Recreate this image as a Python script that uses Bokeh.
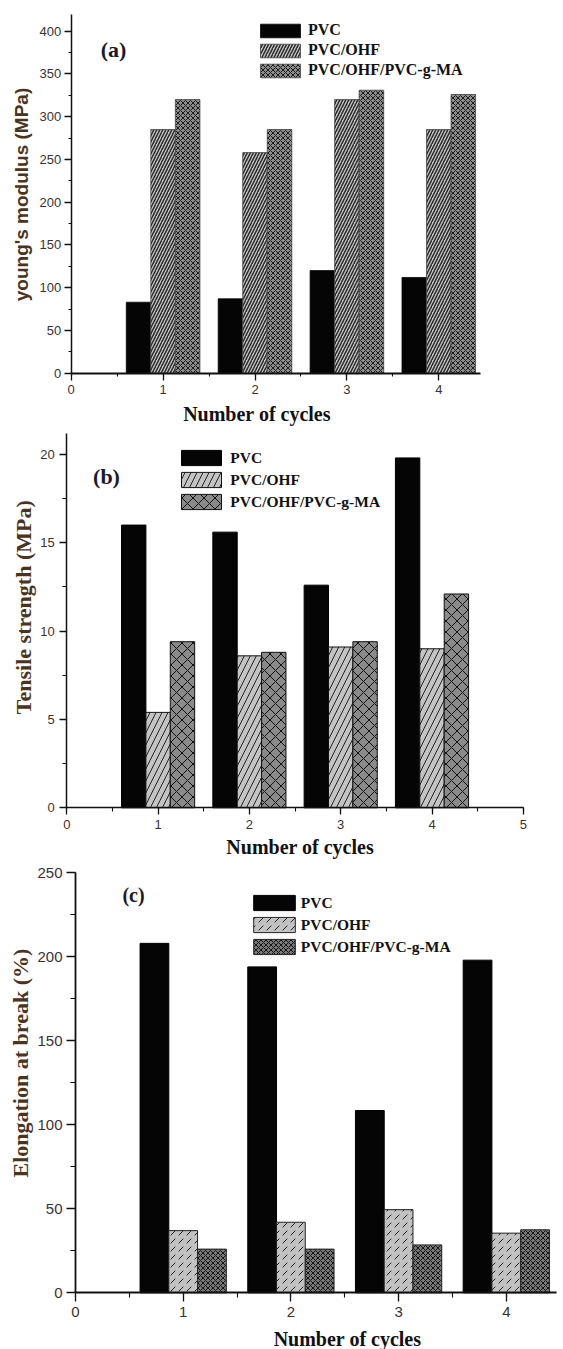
import math
from bokeh.plotting import figure
from bokeh.models import (Label, SingleIntervalTicker, Range1d, Legend, LegendItem,
                          ColumnDataSource)
from bokeh.layouts import column
from bokeh.transform import dodge
from bokeh.embed import file_html
from bokeh.resources import INLINE

# ---------------- data ----------------
cycles = [1, 2, 3, 4]
series_names = ["PVC", "PVC/OHF", "PVC/OHF/PVC-g-MA"]

young_pvc = [83, 87, 120, 112]
young_ohf = [285, 258, 320, 285]
young_ma = [320, 285, 331, 326]

tensile_pvc = [16.0, 15.6, 12.6, 19.8]
tensile_ohf = [5.4, 8.6, 9.1, 9.0]
tensile_ma = [9.4, 8.8, 9.4, 12.1]

elong_pvc = [208, 194, 108.5, 198]
elong_ohf = [37, 42, 49.5, 35.5]
elong_ma = [26, 26, 28.5, 37.5]

panel_tags = ["(a)", "(b)", "(c)"]
y_titles = ["young's modulus (MPa)", "Tensile strength (MPa)", "Elongation at break (%)"]
x_title = "Number of cycles"

BAR_W = 0.267
OFFSETS = [-BAR_W, 0.0, BAR_W]

SERIF = "Liberation Serif"
SANS = "Liberation Sans"
TITLE_COLOR = "#4a3420"
TICK_COLOR = "#3a3232"
W = 563


def make_panel(cfg):
    H = cfg["height"]
    # pixel geometry of the data area inside the figure (origin top-left)
    x0, sx = cfg["x0"], cfg["sx"]      # pixel of x=0, px per unit
    y0, sy = cfg["y0"], cfg["sy"]      # pixel of y=0 (from top), px per unit
    xr = Range1d(-x0 / sx, (W - x0) / sx)
    yr = Range1d(-(H - y0) / sy, y0 / sy)
    p = figure(width=W, height=H, x_range=xr, y_range=yr,
               toolbar_location=None, output_backend="svg",
               min_border_left=0, min_border_right=0,
               min_border_top=0, min_border_bottom=0)
    p.outline_line_color = None
    p.xgrid.visible = False
    p.ygrid.visible = False
    p.background_fill_color = "white"
    p.border_fill_color = "white"

    src = ColumnDataSource(dict(cycle=cycles, s0=cfg["vals"][0],
                                s1=cfg["vals"][1], s2=cfg["vals"][2]))
    renderers = []
    for i, st in enumerate(cfg["styles"]):
        r = p.vbar(x=dodge("cycle", OFFSETS[i]), top="s%d" % i, width=BAR_W,
                   source=src, **st)
        renderers.append(r)

    # axes crossing at the origin, limited to the plotted extent
    p.xaxis.ticker = SingleIntervalTicker(interval=1, num_minor_ticks=2)
    p.yaxis.ticker = SingleIntervalTicker(interval=cfg["yint"], num_minor_ticks=2)
    p.xaxis.fixed_location = 0
    p.yaxis.fixed_location = 0
    p.xaxis.bounds = (0, cfg["xmax"])
    p.yaxis.bounds = (0, cfg["ymax"])
    for ax in (p.xaxis[0], p.yaxis[0]):
        ax.axis_line_color = "#111111"
        ax.axis_line_width = cfg["axw"]
        ax.major_tick_line_color = "#111111"
        ax.minor_tick_line_color = "#111111"
        ax.major_tick_line_width = 1.3
        ax.minor_tick_line_width = 1.1
        ax.major_tick_out = cfg["tick"]
        ax.major_tick_in = 0
        ax.minor_tick_out = cfg["mtick"]
        ax.minor_tick_in = 0
        ax.major_label_text_font = SANS
        ax.major_label_text_font_size = cfg["tfs"]
        ax.major_label_text_color = TICK_COLOR
    p.xaxis.axis_line_width = cfg["xaxw"]
    p.xaxis.major_label_standoff = 5
    p.yaxis.major_label_standoff = cfg["ystand"]

    # legend
    items = [LegendItem(label=series_names[i], renderers=[renderers[i]]) for i in range(3)]
    leg = Legend(items=items, location=cfg["legloc"])
    leg.glyph_width = cfg["gw"]
    leg.glyph_height = cfg["gh"]
    leg.label_height = cfg["lh"]
    leg.label_standoff = cfg["lstand"]
    leg.spacing = 0
    leg.padding = 0
    leg.margin = 0
    leg.border_line_color = None
    leg.background_fill_alpha = 0
    leg.label_text_font = SERIF
    leg.label_text_font_style = "bold"
    leg.label_text_font_size = cfg["lfs"]
    leg.label_text_color = "#111111"
    p.add_layout(leg)

    # panel tag
    tx, ty = cfg["tagpos"]
    p.add_layout(Label(x=tx, y=ty, x_units="screen", y_units="screen", text=cfg["tag"],
                       text_align="center", text_baseline="middle", text_font=SERIF,
                       text_font_style="bold", text_font_size=cfg["tagfs"],
                       text_color="#1a1a26"))
    # y title
    yx, yy = cfg["ytpos"]
    p.add_layout(Label(x=yx, y=yy, x_units="screen", y_units="screen", text=cfg["ytitle"],
                       angle=math.pi / 2, text_align="center", text_baseline="middle",
                       text_font=cfg["ytfont"], text_font_style="bold",
                       text_font_size=cfg["ytfs"], text_color=TITLE_COLOR))
    # x title
    xx, xy = cfg["xtpos"]
    p.add_layout(Label(x=xx, y=xy, x_units="screen", y_units="screen", text=x_title,
                       text_align="center", text_baseline="middle", text_font=SERIF,
                       text_font_style="bold", text_font_size="20px",
                       text_color="#111111"))
    return p


style_a = [
    dict(fill_color="#050505", line_color="#050505", line_width=0.8),
    dict(fill_color="#c8c8c8", line_color="#444444", line_width=0.8,
         hatch_pattern="/", hatch_color="#2a2a2a", hatch_scale=6, hatch_weight=1.5),
    dict(fill_color="#8c8c8c", line_color="#444444", line_width=0.8,
         hatch_pattern="x", hatch_color="#1a1a1a", hatch_scale=5, hatch_weight=1.0),
]
style_b = [
    dict(fill_color="#050505", line_color="#000000", line_width=1),
    dict(fill_color="#c4c4c4", line_color="#111111", line_width=1,
         hatch_pattern="/", hatch_color="#222222", hatch_scale=12, hatch_weight=1.0),
    dict(fill_color="#8a8a8a", line_color="#111111", line_width=1,
         hatch_pattern="x", hatch_color="#111111", hatch_scale=11, hatch_weight=1.0),
]
style_c = [
    dict(fill_color="#050505", line_color="#000000", line_width=1),
    dict(fill_color="#c2c2c2", line_color="#222222", line_width=1,
         hatch_pattern=",", hatch_color="#222222", hatch_scale=8, hatch_weight=1.0),
    dict(fill_color="#777777", line_color="#222222", line_width=1,
         hatch_pattern="x", hatch_color="#151515", hatch_scale=5, hatch_weight=1.0),
]

cfg_a = dict(height=428, x0=70.7, sx=91.9, y0=372.7, sy=0.855,
             xmax=4.45, ymax=420, yint=50, vals=[young_pvc, young_ohf, young_ma],
             styles=style_a, axw=1.5, xaxw=2.2, tick=7, mtick=3, tfs="13px", ystand=3,
             legloc=(255, 347.7), gw=50, gh=17, lh=20, lstand=3, lfs="16px",
             tag=panel_tags[0], tagpos=(113, 379), tagfs="22px",
             ytitle=y_titles[0], ytpos=(21, 234), ytfont=SANS, ytfs="19px",
             xtpos=(256.5, 15))
cfg_b = dict(height=432, x0=66.3, sx=91.3, y0=379.3, sy=17.67,
             xmax=5, ymax=21.2, yint=5, vals=[tensile_pvc, tensile_ohf, tensile_ma],
             styles=style_b, axw=1.5, xaxw=1.6, tick=7, mtick=4, tfs="13px", ystand=5,
             legloc=(176.3, 347.1), gw=50, gh=19, lh=22, lstand=4, lfs="15.5px",
             tag=panel_tags[1], tagpos=(106, 384), tagfs="22px",
             ytitle=y_titles[1], ytpos=(22.5, 253.3), ytfont=SERIF, ytfs="22px",
             xtpos=(299.7, 13.3))
cfg_c = dict(height=489, x0=75, sx=107.7, y0=432.3, sy=1.68,
             xmax=4.47, ymax=250, yint=50, vals=[elong_pvc, elong_ohf, elong_ma],
             styles=style_c, axw=1.8, xaxw=1.8, tick=9, mtick=5, tfs="15px", ystand=4,
             legloc=(247.8, 391.5), gw=52, gh=19, lh=22, lstand=1, lfs="15.5px",
             tag=panel_tags[2], tagpos=(133, 455), tagfs="20px",
             ytitle=y_titles[2], ytpos=(20, 286.4), ytfont=SERIF, ytfs="22px",
             xtpos=(347, 11))

pa = make_panel(cfg_a)
pb = make_panel(cfg_b)
pc = make_panel(cfg_c)

layout = column(pa, pb, pc, spacing=0)
open("out.html", "w").write(file_html(layout, INLINE))
